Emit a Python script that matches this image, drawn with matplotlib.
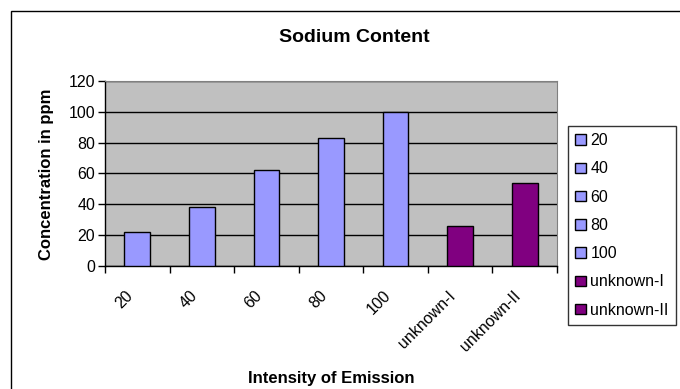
import matplotlib.pyplot as plt
from matplotlib.patches import Rectangle
from matplotlib.transforms import ScaledTranslation

plt.rcParams['font.family'] = ['Liberation Sans', 'DejaVu Sans']

categories = ['20', '40', '60', '80', '100', 'unknown-I', 'unknown-II']
values = [22, 38, 62, 83, 100, 26, 53.5]
bar_colors = ['#9999FF'] * 5 + ['#800080'] * 2
y_ticks = [0, 20, 40, 60, 80, 100, 120]

fig = plt.figure(figsize=(6.8, 3.89), dpi=100)
ax = fig.add_axes([105 / 680, 1 - 265.7 / 389, 452 / 680, 184.7 / 389])
ax.set_facecolor('#C0C0C0')

x = list(range(len(categories)))
bars = ax.bar(x, values, width=0.4, color=bar_colors, edgecolor='black',
              linewidth=1.0, zorder=3)

ax.set_xlim(-0.5, len(categories) - 0.5)
ax.set_ylim(0, 120)
ax.set_yticks(y_ticks)
ax.set_yticklabels([str(v) for v in y_ticks], fontsize=11.5)
ax.grid(True, axis='y', color='black', linewidth=1.0, zorder=1)

# tick marks on category boundaries, labels at centres
ax.set_xticks([i - 0.5 for i in range(len(categories) + 1)])
ax.set_xticklabels([])
ax.set_xticks(x, minor=True)
ax.set_xticklabels(categories, minor=True, rotation=45, ha='right', va='top',
                   rotation_mode='anchor', fontsize=11.5)
ax.tick_params(axis='x', which='minor', length=0, pad=16)
ax.tick_params(axis='x', which='major', length=5, direction='out', width=1)
ax.tick_params(axis='y', length=5, direction='out', width=1, pad=2)
shift = ScaledTranslation(-12 / 100, 0, fig.dpi_scale_trans)
for lab in ax.get_xticklabels(minor=True):
    lab.set_transform(lab.get_transform() + shift)

for s in ['top', 'right']:
    ax.spines[s].set_color('#808080')
for s in ['left', 'bottom']:
    ax.spines[s].set_color('black')
    ax.spines[s].set_linewidth(1.0)

fig.text(47 / 680, 1 - 174 / 389, 'Concentration in ppm', rotation=90,
         ha='center', va='center', fontsize=12, fontweight='bold')
fig.text(331 / 680, 1 - 378 / 389, 'Intensity of Emission', ha='center', va='center',
         fontsize=12, fontweight='bold')
fig.text(354 / 680, 1 - 37 / 389, 'Sodium Content', ha='center', va='center',
         fontsize=14, fontweight='bold')

# chart frame
fig.patches.append(Rectangle((11 / 680, -0.1), 1.2, 1.1 - 11 / 389, fill=False,
                             edgecolor='black', linewidth=1.0,
                             transform=fig.transFigure, figure=fig))

leg = fig.legend(bars, categories, loc='upper left',
                 bbox_to_anchor=(568 / 680, 1 - 126 / 389), fontsize=11.5,
                 frameon=True, fancybox=False, edgecolor='black',
                 handlelength=0.65, handleheight=0.65, handletextpad=0.3,
                 labelspacing=0.83, borderpad=0.45, borderaxespad=0)
leg.get_frame().set_linewidth(1.0)

fig.savefig('out.png', dpi=100)
